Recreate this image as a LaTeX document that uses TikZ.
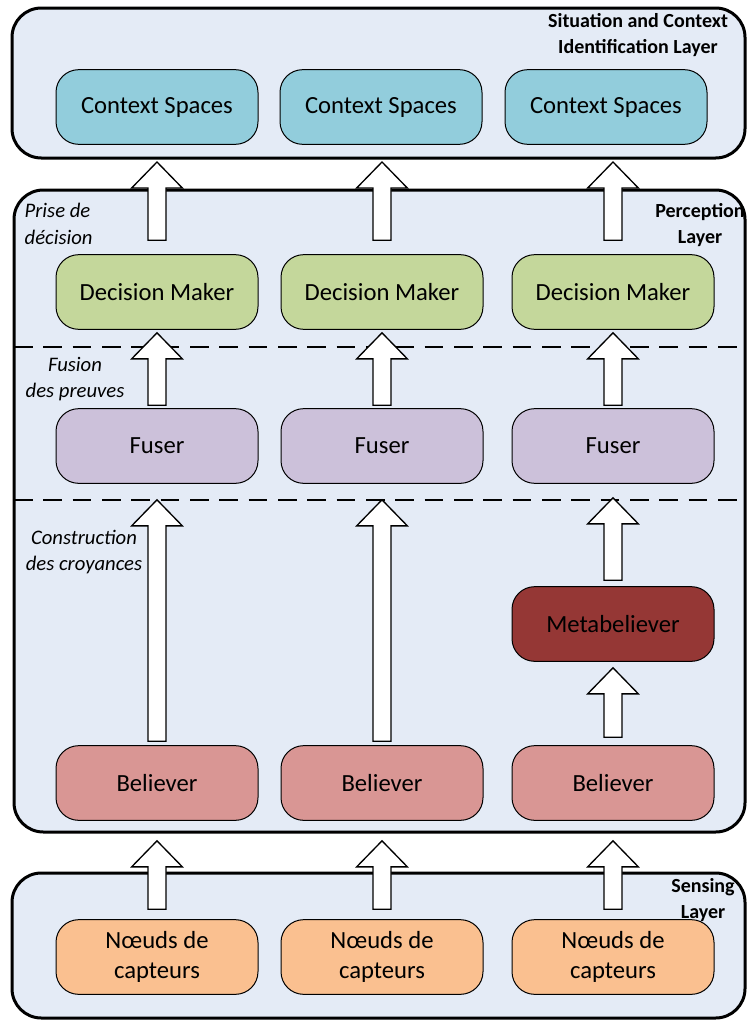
\documentclass[tikz,border=0pt]{standalone}
\usepackage{fontspec}
\setmainfont{Carlito}
\usetikzlibrary{calc}
\definecolor{layerbg}{HTML}{E4EBF6}
\definecolor{ctxcol}{HTML}{92CDDC}
\definecolor{dmcol}{HTML}{C4D79B}
\definecolor{fucol}{HTML}{CCC1DA}
\definecolor{mecol}{HTML}{953735}
\definecolor{becol}{HTML}{D99694}
\definecolor{nccol}{HTML}{FAC090}
% block arrow pointing up, from #1 (foot) to #2 (tip)
\newcommand\blockarr[2]{%
\path[bigarr] let \p1=#1, \p2=#2 in
(\x1-6.75pt,\y1) -- (\x1-6.75pt,\y2-19.5pt) -- (\x1-19pt,\y2-19.5pt) -- (\x1,\y2)
-- (\x1+19pt,\y2-19.5pt) -- (\x1+6.75pt,\y2-19.5pt) -- (\x1+6.75pt,\y1) -- cycle;}
\begin{document}
\begin{tikzpicture}[x=0.75pt, y=-0.75pt,
layer/.style={draw, line width=2.25pt, fill=layerbg, rounded corners=22pt, inner sep=0pt, outer sep=0pt},
box/.style={draw, line width=0.75pt, rounded corners=17pt, minimum width=151.5pt, minimum height=56pt, font=\fontsize{18.5}{22.5}\selectfont, align=center},
laylbl/.style={font=\fontsize{15}{19.5}\selectfont\bfseries, align=center},
steplbl/.style={font=\fontsize{15.5}{20}\selectfont\itshape},
sep/.style={line width=2pt, dash pattern=on 14pt off 8pt},
bigarr/.style={draw, fill=white, line width=1pt}]
\useasboundingbox (0,0) rectangle (747,1021);
% layers
\node[layer, minimum width=549.75pt, minimum height=112.5pt] (sit) at (378.5,83) {};
\node[layer, minimum width=548.25pt, minimum height=481.5pt] (per) at (379.5,511) {};
\node[layer, minimum width=549.75pt, minimum height=108.75pt] (sen) at (378.5,945.5) {};
\coordinate (d1) at (0,347); \coordinate (d2) at (0,500);
\draw[sep] (per.west |- d1) -- (per.east |- d1) (per.west |- d2) -- (per.east |- d2);
% boxes
\foreach \i/\x in {1/157, 2/381, 3/606} {
\node[box, fill=ctxcol] (cs\i) at (\x,107) {Context Spaces};}
\foreach \i/\x in {1/157, 2/382, 3/613} {
\node[box, fill=dmcol] (dm\i) at (\x,292) {Decision Maker};
\node[box, fill=fucol] (fu\i) at (\x,446) {Fuser};
\node[box, fill=becol] (be\i) at (\x,783) {Believer};
\node[box, fill=nccol] (nc\i) at (\x,957) {Nœuds de\\capteurs};}
\node[box, fill=mecol] (me3) at (613,624) {Metabeliever};
% arrows
\foreach \i in {1,2,3} {
\blockarr{($(dm\i.north)+(0,-14)$)}{($(dm\i.north |- sit.south)+(0,4)$)}
\blockarr{($(fu\i.north)+(0,-3)$)}{($(dm\i.south)+(0,3)$)}
\blockarr{($(nc\i.north)+(0,-10)$)}{($(be\i.south)+(0,20)$)}}
\foreach \i in {1,2} {
\blockarr{($(be\i.north)+(0,-4)$)}{($(fu\i.south)+(0,16)$)}}
\blockarr{($(be3.north)+(0,-8)$)}{($(me3.south)+(0,6)$)}
\blockarr{($(me3.north)+(0,-6)$)}{($(fu3.south)+(0,14)$)}
% labels
\node[laylbl] (sitlbl) at (638,35) {Situation and Context\\Identification Layer};
\node[laylbl] (perlbl) at (700,225) {Perception\\Layer};
\node[laylbl] (senlbl) at (703,900) {Sensing\\Layer};
\node[steplbl, align=left, anchor=west] (prise) at (20,224) {Prise de\\décision};
\node[steplbl, align=center] (fusion) at (75,379) {Fusion\\des preuves};
\node[steplbl, align=center] (constr) at (84,552) {Construction\\des croyances};
\end{tikzpicture}
\end{document}
